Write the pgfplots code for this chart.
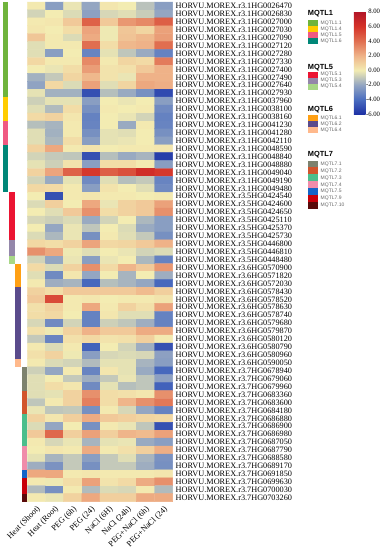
\documentclass[border=0pt]{standalone}
\usepackage{pgfplots}
\pgfplotsset{compat=1.18}
\usepackage{fontspec}
\setmainfont{Liberation Serif}
\newfontfamily\sansf{Liberation Sans}
\definecolor{m11}{RGB}{112,180,60}
\definecolor{m14}{RGB}{255,204,0}
\definecolor{m15}{RGB}{240,90,130}
\definecolor{m16}{RGB}{0,135,120}
\definecolor{m51}{RGB}{235,20,50}
\definecolor{m53}{RGB}{148,135,170}
\definecolor{m54}{RGB}{168,215,135}
\definecolor{m61}{RGB}{255,160,20}
\definecolor{m62}{RGB}{90,75,140}
\definecolor{m64}{RGB}{255,185,140}
\definecolor{m71}{RGB}{125,130,110}
\definecolor{m72}{RGB}{210,85,45}
\definecolor{m73}{RGB}{75,190,140}
\definecolor{m74}{RGB}{240,140,170}
\definecolor{m75}{RGB}{20,100,200}
\definecolor{m79}{RGB}{200,0,10}
\definecolor{m710}{RGB}{90,10,10}
\newcommand{\genefont}{\fontsize{8.25bp}{9bp}\selectfont}
\newcommand{\ttl}[3]{\node[anchor=west,inner sep=0pt,font=\sansf\bfseries\fontsize{7.4bp}{8bp}\selectfont] at (#1bp,#2bp) {#3};}
\newcommand{\sw}[4]{\fill[#3] (307.7bp,#1bp) rectangle (318.3bp,{#1bp-#2bp});
  \node[anchor=west,inner sep=0pt,text=black!60,font=\sansf\fontsize{5bp}{6bp}\selectfont] at (320.5bp,{#1bp-#2bp/2}) {#4};}
\begin{document}
\begin{tikzpicture}
\path[use as bounding box] (0,0) rectangle (386bp,550bp);
\begin{axis}[
  at={(27.3bp,48.4bp)}, anchor=south west,
  scale only axis, width=145.4bp, height=499.6bp,
  xmin=0.5, xmax=8.5, ymin=0.5, ymax=63.5, y dir=reverse,
  axis line style={draw=none}, tick style={draw=none}, major tick length=0pt,
  clip=false,
  xtick={1,...,8},
  xticklabels={Heat (Shoot),Heat (Root),PEG (6h),PEG (24),NaCl (6H),NaCl (24h),PEG+NaCl (6h),PEG+NaCl (24)},
  xticklabel style={rotate=45, anchor=north east, inner sep=0pt, font=\genefont},
  xticklabel shift=3.4bp,
  ytick={1,...,63},
  yticklabels={
HORVU.MOREX.r3.1HG0026470,HORVU.MOREX.r3.1HG0026830,HORVU.MOREX.r3.1HG0027000,HORVU.MOREX.r3.1HG0027030,
HORVU.MOREX.r3.1HG0027090,HORVU.MOREX.r3.1HG0027120,HORVU.MOREX.r3.1HG0027280,HORVU.MOREX.r3.1HG0027330,
HORVU.MOREX.r3.1HG0027400,HORVU.MOREX.r3.1HG0027490,HORVU.MOREX.r3.1HG0027640,HORVU.MOREX.r3.1HG0027930,
HORVU.MOREX.r3.1HG0037960,HORVU.MOREX.r3.1HG0038100,HORVU.MOREX.r3.1HG0038160,HORVU.MOREX.r3.1HG0041230,
HORVU.MOREX.r3.1HG0041280,HORVU.MOREX.r3.1HG0042110,HORVU.MOREX.r3.1HG0048590,HORVU.MOREX.r3.1HG0048840,
HORVU.MOREX.r3.1HG0048880,HORVU.MOREX.r3.1HG0049040,HORVU.MOREX.r3.1HG0049190,HORVU.MOREX.r3.1HG0049480,
HORVU.MOREX.r3.5HG0424540,HORVU.MOREX.r3.5HG0424600,HORVU.MOREX.r3.5HG0424650,HORVU.MOREX.r3.5HG0425110,
HORVU.MOREX.r3.5HG0425370,HORVU.MOREX.r3.5HG0425730,HORVU.MOREX.r3.5HG0446800,HORVU.MOREX.r3.5HG0446810,
HORVU.MOREX.r3.5HG0448480,HORVU.MOREX.r3.6HG0570900,HORVU.MOREX.r3.6HG0571820,HORVU.MOREX.r3.6HG0572030,
HORVU.MOREX.r3.6HG0578430,HORVU.MOREX.r3.6HG0578520,HORVU.MOREX.r3.6HG0578630,HORVU.MOREX.r3.6HG0578740,
HORVU.MOREX.r3.6HG0579680,HORVU.MOREX.r3.6HG0579870,HORVU.MOREX.r3.6HG0580120,HORVU.MOREX.r3.6HG0580790,
HORVU.MOREX.r3.6HG0580960,HORVU.MOREX.r3.6HG0590050,HORVU.MOREX.r3.7HG0678940,HORVU.MOREX.r3.7HG0679060,
HORVU.MOREX.r3.7HG0679960,HORVU.MOREX.r3.7HG0683360,HORVU.MOREX.r3.7HG0683600,HORVU.MOREX.r3.7HG0684180,
HORVU.MOREX.r3.7HG0686880,HORVU.MOREX.r3.7HG0686900,HORVU.MOREX.r3.7HG0686980,HORVU.MOREX.r3.7HG0687050,
HORVU.MOREX.r3.7HG0687790,HORVU.MOREX.r3.7HG0688580,HORVU.MOREX.r3.7HG0689170,HORVU.MOREX.r3.7HG0691850,
HORVU.MOREX.r3.7HG0699630,HORVU.MOREX.r3.7HG0700030,HORVU.MOREX.r3.7HG0703260},
  yticklabel pos=right,
  yticklabel style={anchor=west, inner sep=0pt, font=\genefont},
  yticklabel shift=2.8bp,
  colormap={hm}{rgb255=(30,50,165) rgb255=(75,110,192) rgb255=(148,166,194) rgb255=(243,236,178)
                rgb255=(239,178,136) rgb255=(224,110,80) rgb255=(213,50,40) rgb255=(178,22,40)},
  point meta min=-6, point meta max=8,
  colorbar,
  colorbar shift/.style={},
  colorbar style={
    at={(parent axis.north east)}, anchor=north west,
    xshift=181.3bp, yshift=-9.7bp,
    scale only axis, width=11.7bp, height=102.3bp,
    ytick={-6,-4,-2,0,2,4,6,8},
    yticklabels={-6.00,-4.00,-2.00,0.00,2.00,4.00,6.00,8.00},
    yticklabel style={anchor=east, inner sep=0pt, xshift=14.6bp, font=\fontsize{6.7bp}{7bp}\selectfont},
    axis line style={draw=none}, tick style={draw=none}, major tick length=0pt,
  },
]
\addplot[matrix plot*, mesh/cols=8, point meta=explicit] coordinates {
(1,1)[0.1] (2,1)[-2.3] (3,1)[-0.2] (4,1)[-2.0] (5,1)[0.2] (6,1)[0.0] (7,1)[-1.2] (8,1)[-2.3]
(1,2)[-0.7] (2,2)[0.0] (3,2)[-0.5] (4,2)[-2.2] (5,2)[-0.6] (6,2)[-0.4] (7,2)[-0.9] (8,2)[-2.0]
(1,3)[0.1] (2,3)[0.2] (3,3)[1.2] (4,3)[4.4] (5,3)[1.2] (6,3)[2.8] (7,3)[3.2] (8,3)[4.5]
(1,4)[0.2] (2,4)[0.0] (3,4)[0.5] (4,4)[2.4] (5,4)[-0.1] (6,4)[1.3] (7,4)[0.8] (8,4)[2.5]
(1,5)[1.3] (2,5)[0.1] (3,5)[-0.5] (4,5)[2.2] (5,5)[-0.1] (6,5)[1.4] (7,5)[1.8] (8,5)[2.6]
(1,6)[-0.4] (2,6)[0.1] (3,6)[0.1] (4,6)[4.0] (5,6)[0.5] (6,6)[1.8] (7,6)[2.0] (8,6)[4.0]
(1,7)[-0.4] (2,7)[-2.3] (3,7)[0.0] (4,7)[-3.2] (5,7)[-0.3] (6,7)[-1.1] (7,7)[-1.9] (8,7)[-3.3]
(1,8)[0.7] (2,8)[0.1] (3,8)[0.1] (4,8)[3.2] (5,8)[0.1] (6,8)[0.8] (7,8)[0.6] (8,8)[3.6]
(1,9)[0.0] (2,9)[-0.2] (3,9)[0.5] (4,9)[2.6] (5,9)[0.3] (6,9)[0.4] (7,9)[1.2] (8,9)[2.0]
(1,10)[-1.7] (2,10)[-1.0] (3,10)[0.8] (4,10)[1.8] (5,10)[0.3] (6,10)[-0.2] (7,10)[2.0] (8,10)[2.0]
(1,11)[-2.1] (2,11)[0.7] (3,11)[-0.5] (4,11)[2.5] (5,11)[-0.4] (6,11)[0.8] (7,11)[2.3] (8,11)[2.1]
(1,12)[-0.3] (2,12)[-1.7] (3,12)[-1.7] (4,12)[-5.0] (5,12)[-1.3] (6,12)[-1.9] (7,12)[-2.8] (8,12)[-5.2]
(1,13)[-0.8] (2,13)[-0.3] (3,13)[-0.3] (4,13)[-2.3] (5,13)[0.0] (6,13)[-0.2] (7,13)[0.0] (8,13)[-2.3]
(1,14)[-0.4] (2,14)[-1.4] (3,14)[0.5] (4,14)[-2.8] (5,14)[0.1] (6,14)[0.0] (7,14)[0.1] (8,14)[-3.0]
(1,15)[0.6] (2,15)[0.9] (3,15)[0.2] (4,15)[-3.3] (5,15)[0.0] (6,15)[-0.2] (7,15)[-0.7] (8,15)[-3.3]
(1,16)[-1.3] (2,16)[-1.6] (3,16)[0.1] (4,16)[-3.2] (5,16)[0.0] (6,16)[-1.9] (7,16)[0.1] (8,16)[-3.2]
(1,17)[-0.4] (2,17)[-1.7] (3,17)[0.1] (4,17)[-2.8] (5,17)[-0.3] (6,17)[-0.4] (7,17)[0.0] (8,17)[-2.8]
(1,18)[-0.4] (2,18)[-1.5] (3,18)[0.5] (4,18)[-2.3] (5,18)[-0.3] (6,18)[-0.2] (7,18)[0.0] (8,18)[-2.3]
(1,19)[0.9] (2,19)[2.3] (3,19)[0.1] (4,19)[0.3] (5,19)[0.0] (6,19)[0.1] (7,19)[0.1] (8,19)[0.2]
(1,20)[-0.7] (2,20)[-1.0] (3,20)[-1.1] (4,20)[-5.0] (5,20)[-1.3] (6,20)[-1.9] (7,20)[-1.6] (8,20)[-5.6]
(1,21)[-0.3] (2,21)[-0.8] (3,21)[0.3] (4,21)[-2.3] (5,21)[0.5] (6,21)[0.5] (7,21)[0.1] (8,21)[-2.3]
(1,22)[0.9] (2,22)[2.4] (3,22)[4.4] (4,22)[5.8] (5,22)[4.5] (6,22)[5.0] (7,22)[6.3] (8,22)[5.8]
(1,23)[-0.7] (2,23)[-1.9] (3,23)[-0.3] (4,23)[-3.0] (5,23)[-0.4] (6,23)[-1.3] (7,23)[-1.0] (8,23)[-3.2]
(1,24)[0.7] (2,24)[0.6] (3,24)[0.1] (4,24)[-2.3] (5,24)[0.3] (6,24)[0.0] (7,24)[-0.4] (8,24)[-3.0]
(1,25)[0.0] (2,25)[-5.0] (3,25)[0.1] (4,25)[0.2] (5,25)[0.1] (6,25)[0.1] (7,25)[0.0] (8,25)[0.1]
(1,26)[-0.5] (2,26)[1.0] (3,26)[0.0] (4,26)[2.3] (5,26)[-0.2] (6,26)[0.9] (7,26)[1.2] (8,26)[2.5]
(1,27)[0.0] (2,27)[-0.4] (3,27)[1.2] (4,27)[3.0] (5,27)[0.5] (6,27)[0.9] (7,27)[1.2] (8,27)[3.0]
(1,28)[-0.6] (2,28)[-0.8] (3,28)[-0.5] (4,28)[-1.9] (5,28)[-0.7] (6,28)[0.0] (7,28)[-1.5] (8,28)[-2.3]
(1,29)[0.0] (2,29)[-2.0] (3,29)[-0.2] (4,29)[-1.1] (5,29)[0.0] (6,29)[-0.5] (7,29)[-1.9] (8,29)[-2.3]
(1,30)[-0.5] (2,30)[-1.5] (3,30)[-0.2] (4,30)[-2.8] (5,30)[0.1] (6,30)[-0.4] (7,30)[-1.0] (8,30)[-2.8]
(1,31)[0.7] (2,31)[0.5] (3,31)[0.9] (4,31)[2.4] (5,31)[0.7] (6,31)[0.8] (7,31)[1.2] (8,31)[2.0]
(1,32)[3.0] (2,32)[2.3] (3,32)[-0.1] (4,32)[-0.4] (5,32)[0.0] (6,32)[-0.2] (7,32)[-0.7] (8,32)[-0.5]
(1,33)[-0.7] (2,33)[-2.0] (3,33)[-0.2] (4,33)[-2.3] (5,33)[-0.2] (6,33)[0.0] (7,33)[-1.5] (8,33)[-3.3]
(1,34)[0.6] (2,34)[-0.5] (3,34)[0.9] (4,34)[3.0] (5,34)[0.6] (6,34)[1.9] (7,34)[1.2] (8,34)[2.8]
(1,35)[-0.4] (2,35)[-3.0] (3,35)[0.2] (4,35)[-2.0] (5,35)[0.0] (6,35)[-1.6] (7,35)[0.0] (8,35)[-1.8]
(1,36)[0.1] (2,36)[-1.8] (3,36)[-1.6] (4,36)[-4.2] (5,36)[-1.3] (6,36)[-1.6] (7,36)[-2.0] (8,36)[-4.2]
(1,37)[0.9] (2,37)[0.5] (3,37)[1.2] (4,37)[1.2] (5,37)[1.2] (6,37)[1.2] (7,37)[1.7] (8,37)[1.0]
(1,38)[1.2] (2,38)[5.2] (3,38)[0.1] (4,38)[0.2] (5,38)[0.0] (6,38)[0.1] (7,38)[0.1] (8,38)[0.3]
(1,39)[0.4] (2,39)[0.9] (3,39)[0.1] (4,39)[2.3] (5,39)[0.1] (6,39)[0.9] (7,39)[0.4] (8,39)[2.5]
(1,40)[0.5] (2,40)[0.7] (3,40)[0.0] (4,40)[-3.3] (5,40)[0.2] (6,40)[-0.4] (7,40)[-0.4] (8,40)[-3.3]
(1,41)[-0.6] (2,41)[-3.0] (3,41)[-0.7] (4,41)[-3.3] (5,41)[-0.8] (6,41)[-1.1] (7,41)[-1.8] (8,41)[-3.3]
(1,42)[0.4] (2,42)[-0.1] (3,42)[0.9] (4,42)[2.0] (5,42)[1.2] (6,42)[1.2] (7,42)[2.2] (8,42)[2.2]
(1,43)[-1.0] (2,43)[-3.2] (3,43)[0.4] (4,43)[0.7] (5,43)[0.3] (6,43)[0.4] (7,43)[1.0] (8,43)[0.1]
(1,44)[0.1] (2,44)[-0.5] (3,44)[0.1] (4,44)[-4.4] (5,44)[0.0] (6,44)[-0.7] (7,44)[-1.8] (8,44)[-5.0]
(1,45)[0.4] (2,45)[0.9] (3,45)[-0.1] (4,45)[-2.3] (5,45)[-0.6] (6,45)[-0.5] (7,45)[-0.6] (8,45)[-2.2]
(1,46)[0.1] (2,46)[-0.5] (3,46)[-0.7] (4,46)[-1.4] (5,46)[-0.3] (6,46)[-0.3] (7,46)[-1.6] (8,46)[-2.3]
(1,47)[-0.8] (2,47)[-2.0] (3,47)[0.1] (4,47)[-3.2] (5,47)[0.2] (6,47)[-0.3] (7,47)[-1.9] (8,47)[-4.2]
(1,48)[-0.4] (2,48)[0.0] (3,48)[-1.0] (4,48)[-1.8] (5,48)[-1.0] (6,48)[-0.2] (7,48)[-1.1] (8,48)[-2.2]
(1,49)[-0.4] (2,49)[0.5] (3,49)[0.2] (4,49)[-3.0] (5,49)[-0.3] (6,49)[-1.3] (7,49)[-1.1] (8,49)[-4.4]
(1,50)[-0.4] (2,50)[-0.3] (3,50)[0.9] (4,50)[3.0] (5,50)[0.5] (6,50)[0.4] (7,50)[0.2] (8,50)[3.0]
(1,51)[-1.1] (2,51)[0.1] (3,51)[0.9] (4,51)[3.5] (5,51)[0.5] (6,51)[1.9] (7,51)[3.0] (8,51)[3.7]
(1,52)[-0.2] (2,52)[-1.1] (3,52)[-1.0] (4,52)[-2.8] (5,52)[0.1] (6,52)[-0.6] (7,52)[-2.0] (8,52)[-3.3]
(1,53)[0.9] (2,53)[0.2] (3,53)[1.0] (4,53)[2.2] (5,53)[1.2] (6,53)[1.0] (7,53)[0.8] (8,53)[0.7]
(1,54)[-0.5] (2,54)[-2.0] (3,54)[0.0] (4,54)[-2.8] (5,54)[0.1] (6,54)[-0.2] (7,54)[-1.1] (8,54)[-5.0]
(1,55)[1.2] (2,55)[4.2] (3,55)[1.0] (4,55)[2.5] (5,55)[1.0] (6,55)[1.9] (7,55)[1.7] (8,55)[2.5]
(1,56)[0.1] (2,56)[-0.6] (3,56)[-0.2] (4,56)[-1.6] (5,56)[-0.3] (6,56)[-0.2] (7,56)[-1.9] (8,56)[-2.3]
(1,57)[0.0] (2,57)[0.2] (3,57)[0.1] (4,57)[2.2] (5,57)[0.1] (6,57)[0.4] (7,57)[1.0] (8,57)[2.1]
(1,58)[-0.3] (2,58)[-1.6] (3,58)[-1.0] (4,58)[-2.3] (5,58)[-1.0] (6,58)[-0.4] (7,58)[-1.6] (8,58)[-2.7]
(1,59)[-1.8] (2,59)[-2.7] (3,59)[-1.0] (4,59)[-2.8] (5,59)[-1.0] (6,59)[-1.0] (7,59)[-1.8] (8,59)[-2.8]
(1,60)[2.3] (2,60)[2.3] (3,60)[0.1] (4,60)[0.2] (5,60)[0.1] (6,60)[0.1] (7,60)[0.1] (8,60)[0.2]
(1,61)[0.1] (2,61)[-0.1] (3,61)[0.5] (4,61)[2.5] (5,61)[0.3] (6,61)[0.6] (7,61)[2.2] (8,61)[3.0]
(1,62)[-1.4] (2,62)[-2.8] (3,62)[0.1] (4,62)[-1.4] (5,62)[-0.5] (6,62)[-0.6] (7,62)[0.1] (8,62)[-1.4]
(1,63)[0.1] (2,63)[-0.2] (3,63)[0.9] (4,63)[2.3] (5,63)[1.0] (6,63)[1.0] (7,63)[2.2] (8,63)[2.2]
};
% annotation bars (MQTL groups by row ranges)
\fill[m11] (axis cs:-0.8535,0.5) rectangle (axis cs:-0.5454,12.5);
\fill[m14] (axis cs:-0.8535,12.5) rectangle (axis cs:-0.5454,15.5);
\fill[m15] (axis cs:-0.8535,15.5) rectangle (axis cs:-0.5454,18.5);
\fill[m16] (axis cs:-0.8535,18.5) rectangle (axis cs:-0.5454,24.5);
\fill[m51] (axis cs:-0.5069,24.5) rectangle (axis cs:-0.1768,30.5);
\fill[m53] (axis cs:-0.5069,30.5) rectangle (axis cs:-0.1768,32.5);
\fill[m54] (axis cs:-0.5069,32.5) rectangle (axis cs:-0.1768,33.5);
\fill[m61] (axis cs:-0.1768,33.5) rectangle (axis cs:0.1699,36.5);
\fill[m62] (axis cs:-0.1768,36.5) rectangle (axis cs:0.1699,45.5);
\fill[m64] (axis cs:-0.1768,45.5) rectangle (axis cs:0.1699,46.5);
\fill[m71] (axis cs:0.1919,46.5) rectangle (axis cs:0.5,49.5);
\fill[m72] (axis cs:0.1919,49.5) rectangle (axis cs:0.5,52.5);
\fill[m73] (axis cs:0.1919,52.5) rectangle (axis cs:0.5,56.5);
\fill[m74] (axis cs:0.1919,56.5) rectangle (axis cs:0.5,59.5);
\fill[m75] (axis cs:0.1919,59.5) rectangle (axis cs:0.5,60.5);
\fill[m79] (axis cs:0.1919,60.5) rectangle (axis cs:0.5,62.5);
\fill[m710] (axis cs:0.1919,62.5) rectangle (axis cs:0.5,63.5);
\end{axis}
% group legends
\ttl{307.7}{536}{MQTL1}
\sw{529.5}{6}{m11}{MQTL1.1}
\sw{523.5}{6}{m14}{MQTL1.4}
\sw{517.5}{6}{m15}{MQTL1.5}
\sw{511.5}{6}{m16}{MQTL1.6}
\ttl{307.7}{482.3}{MQTL5}
\sw{478.3}{6}{m51}{MQTL5.1}
\sw{472.3}{6}{m53}{MQTL5.3}
\sw{466.3}{6}{m54}{MQTL5.4}
\ttl{307.7}{440}{MQTL6}
\sw{435}{6}{m61}{MQTL6.1}
\sw{429}{6}{m62}{MQTL6.2}
\sw{423}{6}{m64}{MQTL6.4}
\ttl{307.7}{395}{MQTL7}
\sw{389.4}{6.9}{m71}{MQTL7.1}
\sw{382.5}{6.9}{m72}{MQTL7.2}
\sw{375.6}{6.9}{m73}{MQTL7.3}
\sw{368.7}{6.9}{m74}{MQTL7.4}
\sw{361.8}{6.9}{m75}{MQTL7.5}
\sw{354.9}{6.9}{m79}{MQTL7.9}
\sw{348}{6.9}{m710}{MQTL7.10}
\end{tikzpicture}
\end{document}
